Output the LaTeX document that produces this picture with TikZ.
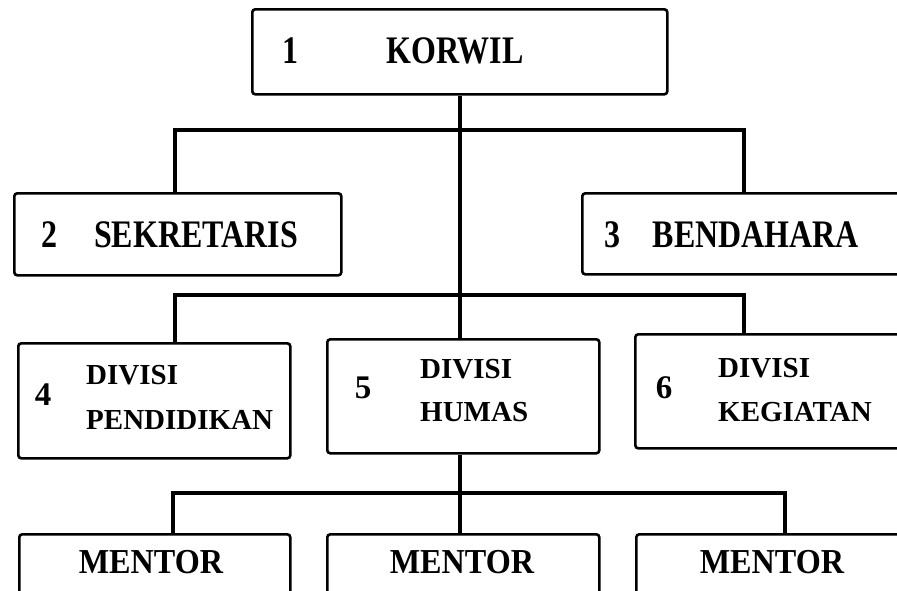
\documentclass[tikz,border=0pt]{standalone}
\usepackage{fontspec}
\newfontfamily\fA{Liberation Serif}[FakeStretch=0.82]
\newfontfamily\fB{Liberation Serif}
\newfontfamily\fC{Liberation Serif}[FakeStretch=0.92]
\begin{document}
\begin{tikzpicture}[x=1pt,y=-1pt,
  box/.style={draw, line width=2.6pt, rounded corners=3pt, inner sep=0pt, anchor=north west},
  link/.style={line width=3.8pt},
  lbl/.style={inner sep=0pt, anchor=center},
  lblw/.style={inner sep=0pt, anchor=west},
  big/.style={font=\fA\bfseries\fontsize{39}{39}\selectfont},
  num/.style={font=\fB\bfseries\fontsize{33}{33}\selectfont},
  div/.style={font=\fB\bfseries\fontsize{29}{29}\selectfont},
  men/.style={font=\fC\bfseries\fontsize{35}{35}\selectfont}]
\useasboundingbox (0,0) rectangle (897,590);
\clip (0,0) rectangle (897,590);
\fill[white] (0,0) rectangle (897,590);

% boxes
\node[box, minimum width=415pt, minimum height=85pt] (korwil) at (251,8) {};
\node[box, minimum width=327pt, minimum height=82pt] (sek) at (13,192) {};
\node[box, minimum width=340pt, minimum height=81pt] (ben) at (581,192) {};
\node[box, minimum width=272pt, minimum height=115pt] (d4) at (17,342) {};
\node[box, minimum width=272pt, minimum height=114pt] (d5) at (326,338) {};
\node[box, minimum width=300pt, minimum height=114pt] (d6) at (634,333) {};
\node[box, minimum width=271pt, minimum height=80pt] (m1) at (18,533) {};
\node[box, minimum width=272pt, minimum height=80pt] (m2) at (326,533) {};
\node[box, minimum width=300pt, minimum height=80pt] (m3) at (635,533) {};

% bus coordinates
\coordinate (b1l) at (175,130);
\coordinate (b1r) at (744,130);
\coordinate (b2l) at (175,295);
\coordinate (b2r) at (744,295);
\coordinate (b3l) at (173,493);
\coordinate (b3r) at (785,493);

% connectors
\draw[link] (b1l |- sek.north) -- (b1l) -- (b1r) -- (b1r |- ben.north);
\draw[link] (b2l |- d4.north) -- (b2l) -- (b2r) -- (b2r |- d6.north);
\draw[link] (korwil.south) -- (korwil.south |- d5.north);
\draw[link] (b3l |- m1.north) -- (b3l) -- (b3r) -- (b3r |- m3.north);
\draw[link] (korwil.south |- d5.south) -- (korwil.south |- m2.north);

% texts
\node[lbl, big] (t1) at (290,51) {1};
\node[lbl, big] (t1b) at (455,51) {KORWIL};
\node[lbl, big] (t2) at (49,235) {2};
\node[lbl, big] (t2b) at (196,235) {SEKRETARIS};
\node[lbl, big] (t3) at (612,235) {3};
\node[lbl, big] (t3b) at (756,235) {BENDAHARA};

\node[lbl, num] (t4) at (43,395) {4};
\node[lblw, div] (t4a) at (86,375) {DIVISI};
\node[lblw, div] (t4b) at (86,420) {PENDIDIKAN};
\node[lbl, num] (t5) at (363,388) {5};
\node[lblw, div] (t5a) at (420,369) {DIVISI};
\node[lblw, div] (t5b) at (420,412) {HUMAS};
\node[lbl, num] (t6) at (664,388) {6};
\node[lblw, div] (t6a) at (718,368) {DIVISI};
\node[lblw, div] (t6b) at (718,412) {KEGIATAN};

\node[lbl, men] (tm1) at (151,562) {MENTOR};
\node[lbl, men] (tm2) at (462,562) {MENTOR};
\node[lbl, men] (tm3) at (772,562) {MENTOR};
\end{tikzpicture}
\end{document}
